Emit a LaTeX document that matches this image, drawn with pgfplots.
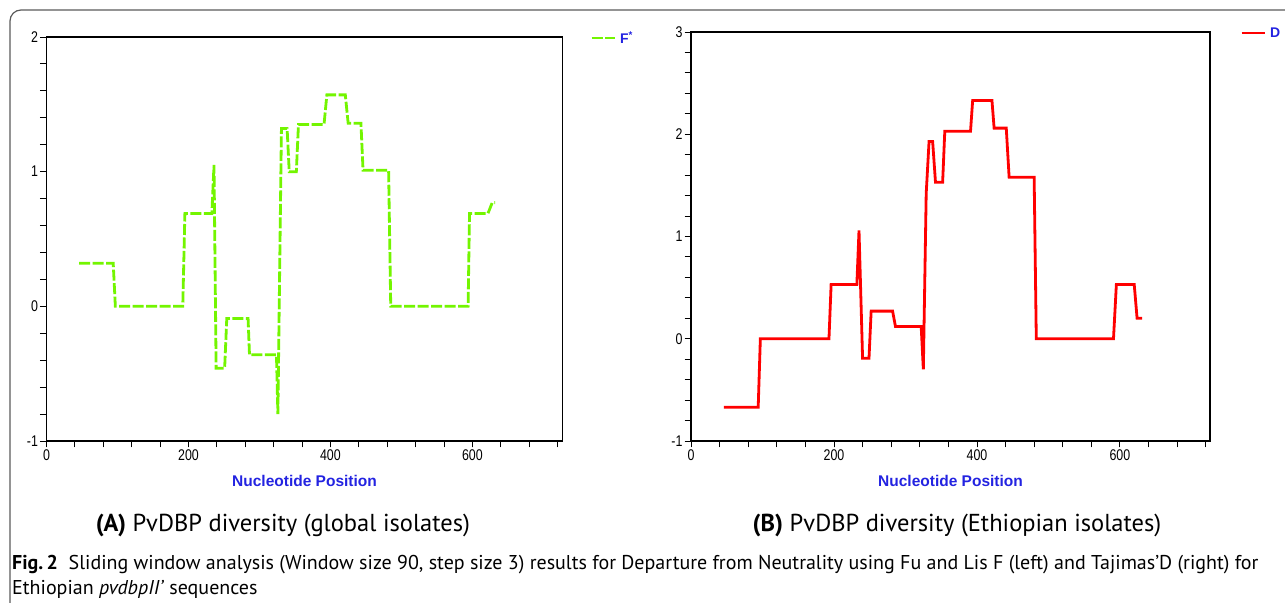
\documentclass[border=0pt]{standalone}
\usepackage{pgfplots}
\pgfplotsset{compat=1.18}
\usepackage{graphicx}
\usepackage{fontspec}
\setmainfont{PT Sans}
\newfontfamily\lib{Liberation Sans}
\definecolor{fgreen}{RGB}{115,245,0}
\definecolor{fred}{RGB}{255,0,0}
\definecolor{lblue}{RGB}{35,35,225}
\definecolor{frame}{RGB}{90,90,90}
\pgfplotsset{
  mystyle/.style={
    anchor=south west, scale only axis,
    axis line style={black, line width=1.1pt},
    tick style={black, line width=0.9pt},
    tick align=outside, tick pos=left,
    major tick length=6.5pt, minor tick length=6.5pt,
    xmin=0, xmax=727,
    xtick={0,200,400,600},
    minor xtick={40,80,...,720},
    minor y tick num=4,
    xticklabel={\scalebox{0.8}[1]{\pgfmathprintnumber[assume math mode=true]{\tick}}},
    yticklabel={\scalebox{0.8}[1]{\pgfmathprintnumber[assume math mode=true]{\tick}}},
    ticklabel style={font=\lib\fontsize{15.5}{15.5}\selectfont},
    xticklabel style={yshift=1pt},
    yticklabel style={xshift=1.5pt},
    xlabel={Nucleotide Position},
    xlabel style={font=\lib\bfseries\fontsize{15.5}{15.5}\selectfont, text=lblue, anchor=center},
    legend style={draw=none, fill=none, inner sep=0pt, anchor=west,
      font=\lib\bfseries\fontsize{14}{14}\selectfont, text=lblue},
    legend image code/.code={\draw[#1] (0pt,0pt) -- (23pt,0pt); \path (25pt,0pt);},
  }
}
\begin{document}
\begin{tikzpicture}
\path[use as bounding box] (0,0) rectangle (1285pt,607pt);
\draw[frame, line width=1.2pt] (10pt,4pt) -- (10pt,586pt) arc[start angle=180, end angle=90, radius=11pt] -- (1285pt,597pt);
\begin{axis}[mystyle, at={(46.5pt,166pt)}, width=516pt, height=404pt,
  ymin=-1, ymax=2, ytick={-1,0,1,2},
  xlabel style={at={(axis description cs:0.5,-0.099)}},
  legend style={at={(axis description cs:1.0533,0.9975)}}]
\addplot[fgreen, line width=2.8pt, dash pattern=on 11pt off 2.5pt] coordinates {
(46,0.32) (94,0.32) (97,0) (192,0) (195,0.69) (233,0.69) (236,1.05) (239,-0.46) (251,-0.46) (254,-0.09) (284,-0.09) (286,-0.36) (324,-0.36) (326,-0.80) (331,1.32) (339,1.32) (342,1.0) (352,1.0) (355,1.35) (391,1.35) (395,1.57) (421,1.57) (425,1.36) (443,1.36) (446,1.01) (482,1.01) (485,0) (594,0) (596,0.69) (622,0.69) (628,0.77) (632,0.77)
};
\addlegendentry{F\textsuperscript{*}}
\end{axis}
\begin{axis}[mystyle, at={(691pt,166pt)}, width=519pt, height=409pt,
  xmax=726,
  ymin=-1, ymax=3, ytick={-1,0,1,2,3},
  xlabel style={at={(axis description cs:0.5,-0.098)}},
  legend style={at={(axis description cs:1.0578,0.9976)}}]
\addplot[fred, line width=2.8pt] coordinates {
(46,-0.67) (94,-0.67) (97,0) (193,0) (196,0.53) (232,0.53) (235,1.06) (240,-0.19) (249,-0.19) (252,0.27) (282,0.27) (286,0.12) (322,0.12) (325,-0.30) (329,1.42) (333,1.93) (338,1.93) (342,1.53) (352,1.53) (355,2.03) (391,2.03) (394,2.33) (421,2.33) (424,2.06) (441,2.06) (445,1.58) (480,1.58) (483,0) (591,0) (595,0.53) (620,0.53) (624,0.20) (631,0.20)
};
\addlegendentry{D}
\end{axis}
\node[anchor=center, font=\fontsize{24.5}{28}\selectfont] at (283pt,82pt) {\textbf{(A)} PvDBP diversity (global isolates)};
\node[anchor=center, font=\fontsize{24.5}{28}\selectfont] at (957pt,82pt) {\textbf{(B)} PvDBP diversity (Ethiopian isolates)};
\node[anchor=west, font=\fontsize{20}{24}\selectfont, inner sep=0pt] at (12pt,42pt) {\textbf{Fig.\,2}\ \ Sliding window analysis (Window size 90, step size 3) results for Departure from Neutrality using Fu and Lis F (left) and Tajimas’D (right) for};
\node[anchor=west, font=\fontsize{20}{24}\selectfont, inner sep=0pt] at (12pt,18pt) {Ethiopian \textit{pvdbpII’} sequences};
\end{tikzpicture}
\end{document}
